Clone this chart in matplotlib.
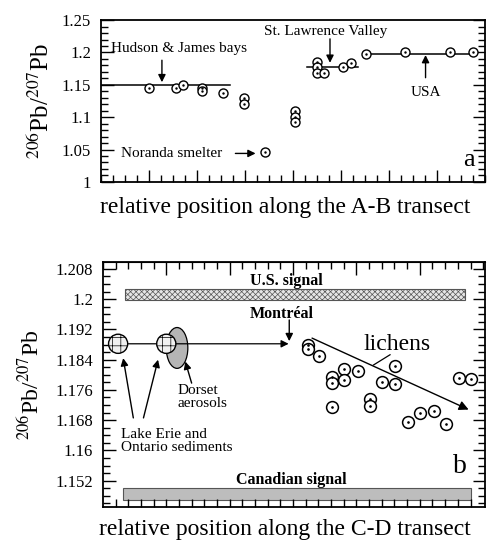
import numpy as np
import matplotlib.pyplot as plt
from matplotlib.patches import Rectangle, Ellipse
from matplotlib.ticker import MultipleLocator, NullFormatter

plt.rcParams['font.family'] = ['Liberation Serif', 'DejaVu Serif']
plt.rcParams['mathtext.fontset'] = 'stix'
plt.rcParams['hatch.linewidth'] = 0.5

# panel a: A-B transect
a_x = [1.0, 1.56, 1.70, 2.10, 2.10, 2.55, 2.97, 2.97, 3.41, 4.04, 4.04, 4.04,
       4.50, 4.50, 4.50, 4.65, 5.04, 5.20, 5.52, 6.33, 7.27, 7.75]
a_y = [1.145, 1.145, 1.149, 1.145, 1.140, 1.138, 1.130, 1.120, 1.046, 1.109,
       1.100, 1.092, 1.186, 1.177, 1.169, 1.169, 1.178, 1.183, 1.197, 1.201,
       1.200, 1.200]
# mean lines: (x start, x end, level)
a_means = [(0.0, 2.69, 1.149), (4.29, 5.35, 1.177), (5.48, 7.81, 1.1975)]

# panel b: C-D transect (lichens)
b_x = [3.23, 3.23, 3.41, 3.61, 3.61, 3.81, 3.81, 4.02, 3.61, 4.21, 4.21, 4.41,
       4.61, 4.61, 4.81, 5.01, 5.22, 5.41, 5.62, 5.81]
b_y = [1.1879, 1.1868, 1.1851, 1.1795, 1.1778, 1.1816, 1.1787, 1.1811, 1.1716,
       1.1736, 1.1718, 1.1780, 1.1822, 1.1776, 1.1674, 1.1699, 1.1705, 1.1671,
       1.1791, 1.1789]
sed_x = [0.24, 1.0]
sed_y = [1.1882, 1.1882]
us_band = (0.35, 5.72, 1.1998, 1.2027)
can_band = (0.32, 5.80, 1.1468, 1.1501)

fig = plt.figure(figsize=(4.9, 5.43), dpi=100)
ax1 = fig.add_axes([0.206, 0.665, 0.784, 0.298])
ax2 = fig.add_axes([0.210, 0.066, 0.780, 0.452])

ylab = r'$^{206}$Pb/$^{207}$Pb'
arr = dict(arrowstyle='-|>', color='k', lw=1, mutation_scale=11, shrinkA=0, shrinkB=0)

# ---- panel a
ax1.set_xlim(0, 8.0)
ax1.set_ylim(1.0, 1.25)
for x0, x1, lev in a_means:
    ax1.plot([x0, x1], [lev, lev], color='k', lw=1.1, zorder=2)
ax1.plot(a_x, a_y, 'o', mfc='white', mec='k', mew=1.0, ms=6.5, zorder=3)
ax1.plot(a_x, a_y, '.', color='k', ms=1.5, zorder=4)

ax1.text(1.63, 1.206, 'Hudson & James bays', ha='center', va='center', fontsize=11)
ax1.annotate('', xy=(1.27, 1.154), xytext=(1.27, 1.188), arrowprops=arr)
ax1.text(4.68, 1.232, 'St. Lawrence Valley', ha='center', va='center', fontsize=11)
ax1.annotate('', xy=(4.77, 1.184), xytext=(4.77, 1.221), arrowprops=arr)
ax1.text(6.76, 1.138, 'USA', ha='center', va='center', fontsize=11)
ax1.annotate('', xy=(6.76, 1.196), xytext=(6.76, 1.161), arrowprops=arr)
ax1.text(1.47, 1.044, 'Noranda smelter', ha='center', va='center', fontsize=11)
ax1.annotate('', xy=(3.22, 1.044), xytext=(2.80, 1.044), arrowprops=arr)
ax1.text(7.66, 1.034, 'a', ha='center', va='center', fontsize=19)

ax1.set_xticks(np.arange(1, 8))
ax1.xaxis.set_minor_locator(MultipleLocator(0.25))
ax1.set_xticklabels([])
ax1.set_yticks([1, 1.05, 1.1, 1.15, 1.2, 1.25])
ax1.set_yticklabels(['1', '1.05', '1.1', '1.15', '1.2', '1.25'])
ax1.yaxis.set_minor_locator(MultipleLocator(0.01))
ax1.tick_params(which='both', direction='in', top=False, right=True, labelsize=12, pad=7)
ax1.tick_params(which='major', length=9, width=1)
ax1.tick_params(which='minor', length=5, width=1)
ax1.set_ylabel(ylab, fontsize=18, labelpad=6)
fig.text(0.582, 0.607, 'relative position along the A-B transect', ha='center',
         va='baseline', fontsize=17)

# ---- panel b
ax2.set_xlim(0, 6.03)
ax2.set_ylim(1.145, 1.2099)
xs, xe, ys, ye = us_band
ax2.add_patch(Rectangle((xs, ys), xe - xs, ye - ys, facecolor='#e6e6e6',
                        edgecolor='#555555', hatch='xxxxxx', lw=0.8, zorder=1))
xs, xe, ys, ye = can_band
ax2.add_patch(Rectangle((xs, ys), xe - xs, ye - ys, facecolor='#bdbdbd',
                        edgecolor='#555555', lw=0.8, zorder=1))
ax2.text(2.90, 1.2047, 'U.S. signal', ha='center', va='center', fontsize=11.5, weight='bold')
ax2.text(2.98, 1.1523, 'Canadian signal', ha='center', va='center', fontsize=11.5, weight='bold')

ax2.add_patch(Ellipse((1.17, 1.1871), 0.34, 0.0108, angle=0, facecolor='#b5b5b5',
                      edgecolor='k', lw=0.9, zorder=2))
ax2.annotate('', xy=(2.93, sed_y[0]), xytext=(sed_x[0], sed_y[0]),
             arrowprops=dict(arr, lw=0.9), zorder=2)
ax2.scatter(sed_x, sed_y, s=190, facecolor='#f0f0f0', edgecolor='k', hatch='++',
            lw=1.0, zorder=3)

ax2.plot(b_x, b_y, 'o', mfc='white', mec='k', mew=1.1, ms=8.5, zorder=3)
ax2.plot(b_x, b_y, '.', color='k', ms=1.8, zorder=4)

ax2.text(2.82, 1.1961, 'Montréal', ha='center', va='center', fontsize=11.5, weight='bold')
ax2.annotate('', xy=(2.94, 1.1889), xytext=(2.94, 1.1945), arrowprops=arr)
ax2.annotate('', xy=(5.77, 1.1708), xytext=(3.30, 1.1897), arrowprops=dict(arr, mutation_scale=14))
ax2.text(4.64, 1.1880, 'lichens', ha='center', va='center', fontsize=17)
ax2.plot([4.53, 4.27], [1.1853, 1.1826], color='k', lw=0.9)

ax2.text(1.18, 1.1741, 'Dorset\naerosols', ha='left', va='center', fontsize=11, linespacing=1.0)
ax2.annotate('', xy=(1.30, 1.1835), xytext=(1.40, 1.1778), arrowprops=arr)
ax2.text(0.28, 1.1626, 'Lake Erie and\nOntario sediments', ha='left', va='center',
         fontsize=11, linespacing=1.0)
ax2.annotate('', xy=(0.32, 1.1844), xytext=(0.48, 1.1686), arrowprops=arr)
ax2.annotate('', xy=(0.87, 1.1840), xytext=(0.64, 1.1686), arrowprops=arr)
ax2.text(5.64, 1.1558, 'b', ha='center', va='center', fontsize=20)

ax2.set_xticks(np.arange(0.2, 6.0, 0.2))
ax2.set_xticklabels([])
ax2.set_yticks(np.arange(1.152, 1.2081, 0.008))
ax2.set_yticklabels(['1.152', '1.16', '1.168', '1.176', '1.184', '1.192', '1.2', '1.208'])
ax2.yaxis.set_minor_locator(MultipleLocator(0.002))
ax2.tick_params(axis='x', which='both', direction='in', top=False, bottom=True, length=6, width=1)
ax2.tick_params(axis='y', which='both', direction='in', right=True, labelsize=12, pad=7)
ax2.tick_params(axis='y', which='major', length=9, width=1)
ax2.tick_params(axis='y', which='minor', length=5, width=1)
sec = ax2.secondary_xaxis('top')
sec.set_xticks(np.arange(1, 6))
sec.xaxis.set_minor_locator(MultipleLocator(0.2))
sec.xaxis.set_major_formatter(NullFormatter())
sec.tick_params(which='both', direction='in', width=1)
sec.tick_params(which='major', length=9)
sec.tick_params(which='minor', length=5)
ax2.set_ylabel(ylab, fontsize=17, labelpad=8)
fig.text(0.582, 0.014, 'relative position along the C-D transect', ha='center',
         va='baseline', fontsize=17)

for a in (ax1, ax2):
    for s in a.spines.values():
        s.set_linewidth(1.3)

fig.savefig('out.png', dpi=100)
